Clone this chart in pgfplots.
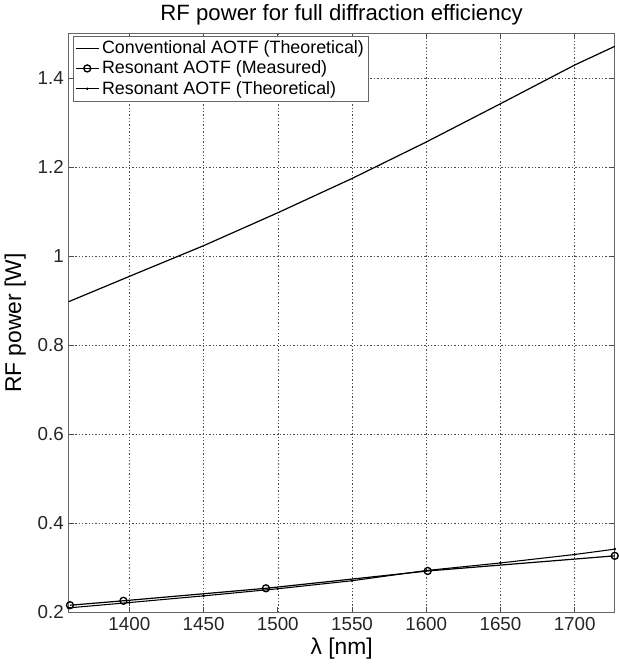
\documentclass[border=0pt]{standalone}
\usepackage{fontspec}
\setmainfont{Liberation Sans}
\usepackage{pgfplots}
\pgfplotsset{compat=1.18}

\begin{document}
\begin{tikzpicture}
\begin{axis}[
    scale only axis,
    width=407pt, height=431pt,
    xmin=1359, xmax=1727, ymin=0.2, ymax=1.5,
    xtick={1400,1450,...,1700},
    ytick={0.2,0.4,...,1.4},
    yticklabels={0.2,0.4,0.6,0.8,1,1.2,1.4},
    /pgf/number format/assume math mode=true,
    /pgf/number format/1000 sep={},
    tick label style={font=\fontsize{14}{16}\selectfont, text=black!85},
    label style={font=\fontsize{17}{19}\selectfont},
    title style={font=\fontsize{16.5}{19}\selectfont, yshift=-3pt},
    title={RF power for full diffraction efficiency},
    xlabel={λ [nm]},
    ylabel={RF power [W]},
    xlabel style={yshift=1pt},
    ylabel style={yshift=2pt},
    grid=major,
    grid style={black!70, dash pattern=on 1pt off 1.5pt, line width=0.4pt},
    axis line style={black!60, line width=0.6pt},
    tick style={black!70, line width=0.5pt},
    tick align=inside,
    major tick length=4pt,
    legend cell align=left,
    legend style={font=\fontsize{13.3}{15}\selectfont, draw=black!60, line width=0.5pt,
        at={(0.008,0.997)}, anchor=north west, inner sep=1.5pt, row sep=0pt},
]
\addplot[black, line width=0.9pt] coordinates {
  (1359,0.898) (1400,0.955) (1450,1.024) (1500,1.098) (1550,1.175)
  (1600,1.257) (1650,1.343) (1700,1.430) (1727,1.472)};
\addlegendentry{Conventional AOTF (Theoretical)}
\addplot[black, line width=0.9pt, mark=o, mark size=2.6pt, mark options={line width=1pt}] coordinates {
  (1360,0.216) (1396,0.226) (1492,0.254) (1601,0.293) (1727,0.327)};
\addlegendentry{Resonant AOTF (Measured)}
\addplot[black, line width=0.8pt, mark=*, mark size=0.5pt] coordinates {
  (1359,0.210) (1400,0.222) (1450,0.237) (1500,0.253) (1550,0.271)
  (1600,0.294) (1650,0.311) (1700,0.330) (1727,0.342)};
\addlegendentry{Resonant AOTF (Theoretical)}
\end{axis}
\end{tikzpicture}
\end{document}
